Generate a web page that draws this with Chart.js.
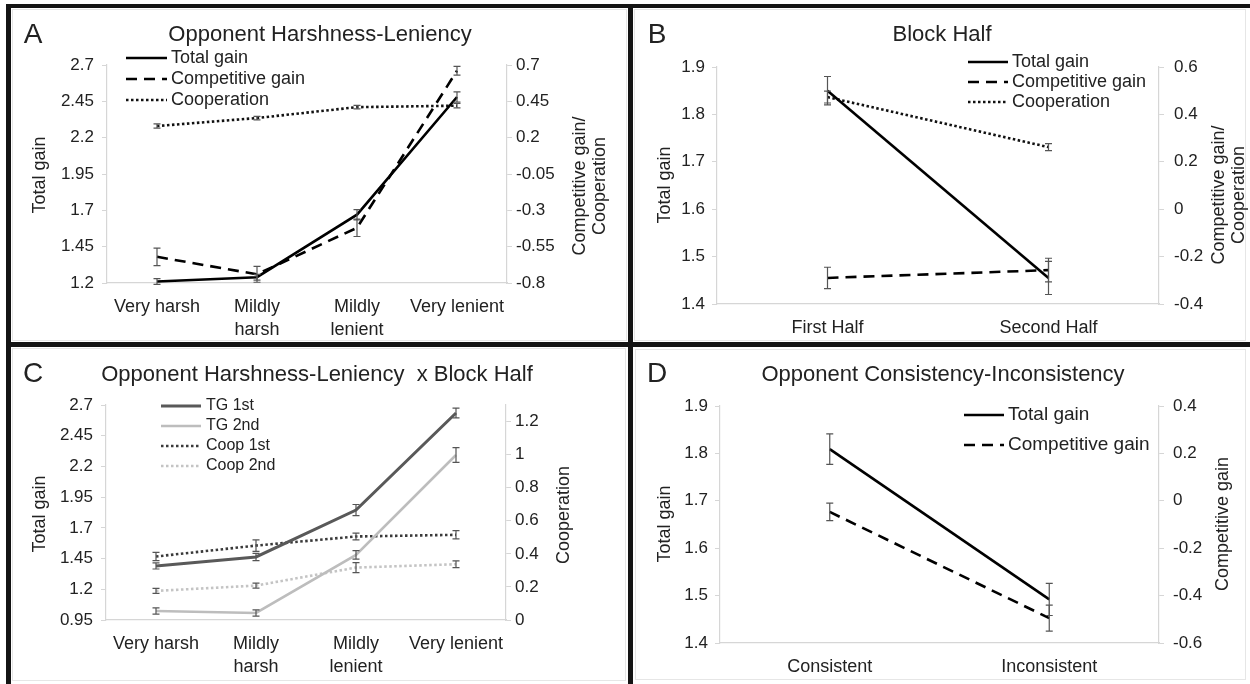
<!DOCTYPE html>
<html><head><meta charset="utf-8">
<script src="https://cdn.jsdelivr.net/npm/chart.js@4.4.1/dist/chart.umd.min.js"></script>
<style>
body{margin:0;background:#fff;}
#wrap{position:relative;width:1250px;height:684px;background:#fff;overflow:hidden;}
canvas{position:absolute;}
.bar{position:absolute;background:#141414;}
.frame{position:absolute;border:1px solid #e6e6e6;box-sizing:border-box;}
</style></head><body>
<div id="wrap">
  <div class="frame" style="left:12px;top:9px;width:615px;height:332px"></div>
  <div class="frame" style="left:634px;top:9px;width:612px;height:332px"></div>
  <div class="frame" style="left:12px;top:348px;width:614px;height:333px"></div>
  <div class="frame" style="left:635px;top:349px;width:611px;height:331px"></div>
  <canvas id="cA" width="617" height="334" style="left:11px;top:8px"></canvas>
  <canvas id="cB" width="617" height="334" style="left:633px;top:8px"></canvas>
  <canvas id="cC" width="617" height="337" style="left:11px;top:347px"></canvas>
  <canvas id="cD" width="617" height="337" style="left:633px;top:347px"></canvas>
  <div class="bar" style="left:6px;top:4px;width:1244px;height:4px"></div>
  <div class="bar" style="left:6px;top:4px;width:5px;height:680px"></div>
  <div class="bar" style="left:628px;top:4px;width:5px;height:680px"></div>
  <div class="bar" style="left:6px;top:342px;width:1244px;height:5px"></div>
</div>
<script>
// ---------- DATA ----------
const catsHL = ['Very harsh', ['Mildly', 'harsh'], ['Mildly', 'lenient'], 'Very lenient'];
const catsBlock = ['First Half', 'Second Half'];
const catsCons = ['Consistent', 'Inconsistent'];

// Panel A
const tgA = [1.21, 1.24, 1.67, 2.48];
const tgA_err = [0.02, 0.02, 0.035, 0.035];
const cgA = [-0.62, -0.74, -0.42, 0.66];
const cgA_err = [0.06, 0.055, 0.06, 0.03];
const coA = [0.28, 0.335, 0.41, 0.42];
const coA_err = [0.015, 0.012, 0.012, 0.015];
const ticksA_L = [1.2, 1.45, 1.7, 1.95, 2.2, 2.45, 2.7];
const ticksA_R = [-0.8, -0.55, -0.3, -0.05, 0.2, 0.45, 0.7];

// Panel B
const tgB = [1.85, 1.455];
const tgB_err = [0.03, 0.035];
const cgB = [-0.29, -0.257];
const cgB_err = [0.045, 0.05];
const coB = [0.473, 0.262];
const coB_err = [0.025, 0.015];
const ticksB_L = [1.4, 1.5, 1.6, 1.7, 1.8, 1.9];
const ticksB_R = [-0.4, -0.2, 0, 0.2, 0.4, 0.6];

// Panel C
const tg1C = [1.39, 1.463, 1.845, 2.635];
const tg1C_err = [0.025, 0.03, 0.045, 0.04];
const tg2C = [1.023, 1.007, 1.48, 2.293];
const tg2C_err = [0.025, 0.025, 0.035, 0.06];
const co1C = [0.384, 0.45, 0.505, 0.515];
const co1C_err = [0.025, 0.035, 0.02, 0.025];
const co2C = [0.176, 0.208, 0.317, 0.337];
const co2C_err = [0.015, 0.015, 0.03, 0.02];
const ticksC_L = [0.95, 1.2, 1.45, 1.7, 1.95, 2.2, 2.45, 2.7];
const ticksC_R = [0, 0.2, 0.4, 0.6, 0.8, 1, 1.2];

// Panel D
const tgD = [1.809, 1.492];
const tgD_err = [0.032, 0.034];
const cgD = [-0.047, -0.495];
const cgD_err = [0.037, 0.055];
const ticksD_L = [1.4, 1.5, 1.6, 1.7, 1.8, 1.9];
const ticksD_R = [-0.6, -0.4, -0.2, 0, 0.2, 0.4];

// ---------- STYLES ----------
const FONT = "'Liberation Sans', Arial, sans-serif";
const TXT = '#222';
const AX = '#d6d6d6';
const ST = {
  solid: {color: '#000', width: 2.6, dash: []},
  dash: {color: '#000', width: 2.6, dash: [11, 7]},
  dot: {color: '#111', width: 2.6, dash: [2.5, 2.5]},
  tg1: {color: '#595959', width: 3, dash: []},
  tg2: {color: '#bdbdbd', width: 2.6, dash: []},
  co1: {color: '#3a3a3a', width: 2.6, dash: [2.5, 2.5]},
  co2: {color: '#c4c4c4', width: 2.6, dash: [2.5, 2.5]}
};
const fmt = v => String(Math.round(v * 100) / 100);

function ds(label, data, errs, st, axis) {
  return {label, data, errorBars: errs, yAxisID: axis,
    borderColor: st.color, borderWidth: st.width, borderDash: st.dash,
    pointRadius: 0, tension: 0, fill: false};
}

const errPlugin = {
  id: 'errbars',
  afterDatasetsDraw(chart) {
    const ctx = chart.ctx;
    ctx.save();
    ctx.strokeStyle = '#555';
    ctx.lineWidth = 1.2;
    ctx.setLineDash([]);
    chart.data.datasets.forEach((d, i) => {
      if (!d.errorBars) return;
      const meta = chart.getDatasetMeta(i);
      const ys = chart.scales[d.yAxisID];
      meta.data.forEach((pt, j) => {
        const v = d.data[j], e = d.errorBars[j];
        const y1 = ys.getPixelForValue(v + e), y2 = ys.getPixelForValue(v - e);
        const x = pt.x;
        ctx.beginPath();
        ctx.moveTo(x, y1); ctx.lineTo(x, y2);
        ctx.moveTo(x - 3.5, y1); ctx.lineTo(x + 3.5, y1);
        ctx.moveTo(x - 3.5, y2); ctx.lineTo(x + 3.5, y2);
        ctx.stroke();
      });
    });
    ctx.restore();
  }
};

const decoPlugin = {
  id: 'deco',
  afterDraw(chart, args, o) {
    const ctx = chart.ctx, bx = o.bx, by = o.by;
    ctx.save();
    ctx.fillStyle = TXT;
    ctx.textBaseline = 'middle';
    // panel letter
    ctx.textAlign = 'center';
    ctx.font = '28px ' + FONT;
    ctx.fillText(o.letter.t, o.letter.x - bx, o.letter.y - by);
    // title
    ctx.font = '22px ' + FONT;
    ctx.fillText(o.title.t, o.title.x - bx, o.title.y - by);
    // axis titles
    ctx.font = '18px ' + FONT;
    [o.leftTitle, o.rightTitle].forEach(t => {
      ctx.save();
      ctx.translate(t.x - bx, t.y - by);
      ctx.rotate(-Math.PI / 2);
      t.lines.forEach((ln, k) => ctx.fillText(ln, 0, k * 20));
      ctx.restore();
    });
    // legend
    const L = o.legend;
    ctx.font = L.font + 'px ' + FONT;
    ctx.textAlign = 'left';
    L.items.forEach((it, k) => {
      const y = L.rows[k] - by;
      ctx.beginPath();
      ctx.strokeStyle = it.st.color;
      ctx.lineWidth = it.st.width;
      ctx.setLineDash(it.st.dash);
      ctx.moveTo(L.x1 - bx, y); ctx.lineTo(L.x2 - bx, y);
      ctx.stroke();
      ctx.fillText(it.t, L.tx - bx, y);
    });
    ctx.restore();
  }
};

function makePanel(p) {
  const b = p.box, pl = p.plot;
  const yAxis = (side, ax) => ({
    type: 'linear', position: side, min: ax.min, max: ax.max,
    afterBuildTicks: s => { s.ticks = ax.ticks.map(v => ({value: v})); },
    afterFit: s => { s.width = side === 'left' ? pl.l - b.x : b.x + b.w - pl.r; },
    ticks: {callback: v => fmt(v), color: TXT, font: {family: FONT, size: 17}, padding: ax.pad, autoSkip: false},
    grid: {drawOnChartArea: false, color: AX, tickLength: 5, drawTicks: true},
    border: {display: true, color: AX, width: 1.2}
  });
  new Chart(document.getElementById(p.id), {
    type: 'line',
    data: {labels: p.labels, datasets: p.datasets},
    options: {
      responsive: false, animation: false, devicePixelRatio: 1,
      layout: {padding: {top: pl.t - b.y, left: 0, right: 0, bottom: 0}},
      plugins: {legend: {display: false}, tooltip: {enabled: false},
        deco: Object.assign({bx: b.x, by: b.y}, p.deco)},
      scales: {
        x: {type: 'category', offset: true,
          grid: {display: false, drawTicks: false},
          border: {display: true, color: AX, width: 1.2},
          afterFit: s => { s.height = b.y + b.h - pl.b; },
          ticks: {color: TXT, font: {family: FONT, size: 18, lineHeight: 1.3}, padding: 12, maxRotation: 0, autoSkip: false}},
        yL: yAxis('left', p.left),
        yR: yAxis('right', p.right)
      }
    },
    plugins: [errPlugin, decoPlugin]
  });
}

makePanel({
  id: 'cA', box: {x: 11, y: 8, w: 617, h: 334}, plot: {l: 107, r: 507, t: 65, b: 283},
  labels: catsHL,
  left: {min: ticksA_L[0], max: ticksA_L[ticksA_L.length - 1], ticks: ticksA_L, pad: 8},
  right: {min: ticksA_R[0], max: ticksA_R[ticksA_R.length - 1], ticks: ticksA_R, pad: 4},
  datasets: [ds('Total gain', tgA, tgA_err, ST.solid, 'yL'),
             ds('Competitive gain', cgA, cgA_err, ST.dash, 'yR'),
             ds('Cooperation', coA, coA_err, ST.dot, 'yR')],
  deco: {letter: {t: 'A', x: 33, y: 35}, title: {t: 'Opponent Harshness-Leniency', x: 320, y: 35},
    leftTitle: {lines: ['Total gain'], x: 40, y: 175},
    rightTitle: {lines: ['Competitive gain/', 'Cooperation'], x: 580, y: 186},
    legend: {x1: 126, x2: 167, tx: 171, rows: [58, 79, 100], font: 18,
      items: [{t: 'Total gain', st: ST.solid}, {t: 'Competitive gain', st: ST.dash}, {t: 'Cooperation', st: ST.dot}]}}
});

makePanel({
  id: 'cB', box: {x: 633, y: 8, w: 617, h: 334}, plot: {l: 717, r: 1159, t: 67, b: 304},
  labels: catsBlock,
  left: {min: ticksB_L[0], max: ticksB_L[ticksB_L.length - 1], ticks: ticksB_L, pad: 7},
  right: {min: ticksB_R[0], max: ticksB_R[ticksB_R.length - 1], ticks: ticksB_R, pad: 10},
  datasets: [ds('Total gain', tgB, tgB_err, ST.solid, 'yL'),
             ds('Competitive gain', cgB, cgB_err, ST.dash, 'yR'),
             ds('Cooperation', coB, coB_err, ST.dot, 'yR')],
  deco: {letter: {t: 'B', x: 657, y: 35}, title: {t: 'Block Half', x: 942, y: 35},
    leftTitle: {lines: ['Total gain'], x: 665, y: 185},
    rightTitle: {lines: ['Competitive gain/', 'Cooperation'], x: 1219, y: 195},
    legend: {x1: 968, x2: 1008, tx: 1012, rows: [62, 82, 102], font: 18,
      items: [{t: 'Total gain', st: ST.solid}, {t: 'Competitive gain', st: ST.dash}, {t: 'Cooperation', st: ST.dot}]}}
});

makePanel({
  id: 'cC', box: {x: 11, y: 347, w: 617, h: 337}, plot: {l: 106, r: 506, t: 405, b: 620},
  labels: catsHL,
  left: {min: ticksC_L[0], max: ticksC_L[ticksC_L.length - 1], ticks: ticksC_L, pad: 8},
  right: {min: 0, max: 1.3, ticks: ticksC_R, pad: 4},
  datasets: [ds('TG 1st', tg1C, tg1C_err, ST.tg1, 'yL'),
             ds('TG 2nd', tg2C, tg2C_err, ST.tg2, 'yL'),
             ds('Coop 1st', co1C, co1C_err, ST.co1, 'yR'),
             ds('Coop 2nd', co2C, co2C_err, ST.co2, 'yR')],
  deco: {letter: {t: 'C', x: 33, y: 374}, title: {t: 'Opponent Harshness-Leniency  x Block Half', x: 317, y: 375},
    leftTitle: {lines: ['Total gain'], x: 40, y: 514},
    rightTitle: {lines: ['Cooperation'], x: 564, y: 515},
    legend: {x1: 161, x2: 201, tx: 206, rows: [406, 426, 446, 466], font: 16,
      items: [{t: 'TG 1st', st: ST.tg1}, {t: 'TG 2nd', st: ST.tg2}, {t: 'Coop 1st', st: ST.co1}, {t: 'Coop 2nd', st: ST.co2}]}}
});

makePanel({
  id: 'cD', box: {x: 633, y: 347, w: 617, h: 337}, plot: {l: 720, r: 1159, t: 406, b: 643},
  labels: catsCons,
  left: {min: ticksD_L[0], max: ticksD_L[ticksD_L.length - 1], ticks: ticksD_L, pad: 7},
  right: {min: ticksD_R[0], max: ticksD_R[ticksD_R.length - 1], ticks: ticksD_R, pad: 9},
  datasets: [ds('Total gain', tgD, tgD_err, ST.solid, 'yL'),
             ds('Competitive gain', cgD, cgD_err, ST.dash, 'yR')],
  deco: {letter: {t: 'D', x: 657, y: 374}, title: {t: 'Opponent Consistency-Inconsistency', x: 943, y: 375},
    leftTitle: {lines: ['Total gain'], x: 665, y: 524},
    rightTitle: {lines: ['Competitive gain'], x: 1223, y: 524},
    legend: {x1: 964, x2: 1004, tx: 1008, rows: [415, 445], font: 19,
      items: [{t: 'Total gain', st: ST.solid}, {t: 'Competitive gain', st: ST.dash}]}}
});
</script>
</body></html>
